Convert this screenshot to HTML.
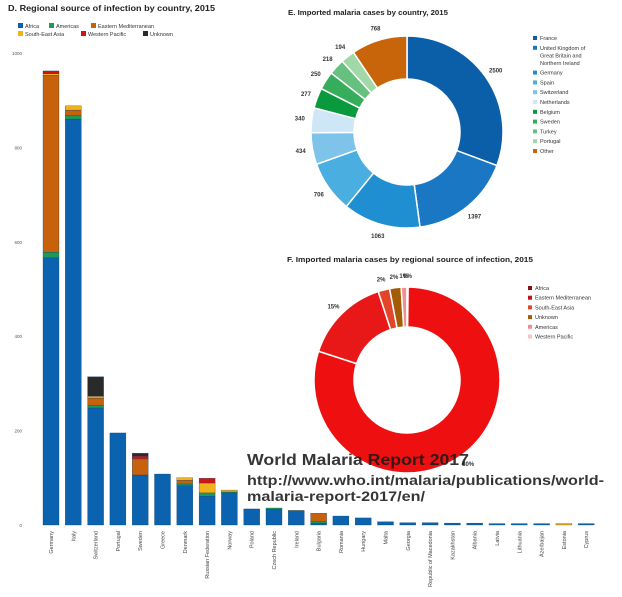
<!DOCTYPE html>
<html><head><meta charset="utf-8"><style>
html,body{margin:0;padding:0;background:#fff;width:622px;height:597px;overflow:hidden;font-family:"Liberation Sans",sans-serif}
svg{display:block}
</style></head><body>
<svg id="c" width="622" height="597" xmlns="http://www.w3.org/2000/svg">
<rect width="622" height="597" fill="#fff"/>
<text x="8" y="11" font-size="8" font-weight="bold" fill="#222" textLength="207" lengthAdjust="spacingAndGlyphs">D. Regional source of infection by country, 2015</text>
<text x="288" y="15" font-size="7.5" font-weight="bold" fill="#222" textLength="160" lengthAdjust="spacingAndGlyphs">E. Imported malaria cases by country, 2015</text>
<text x="287" y="262" font-size="7.5" font-weight="bold" fill="#222" textLength="246" lengthAdjust="spacingAndGlyphs">F. Imported malaria cases by regional source of infection, 2015</text>
<g id="bars"></g>
<g id="legD"></g>
<g id="donutE"></g>
<g id="donutF"></g>
<g opacity="0.88" fill="#1a1a1a" font-weight="bold">
<text x="247" y="465" font-size="16" textLength="222" lengthAdjust="spacingAndGlyphs">World Malaria Report 2017</text>
<text x="247" y="485" font-size="14" textLength="357" lengthAdjust="spacingAndGlyphs">http://www.who.int/malaria/publications/world-</text>
<text x="247" y="501" font-size="14" textLength="178" lengthAdjust="spacingAndGlyphs">malaria-report-2017/en/</text>
</g>
</svg>
<script>
const NS='http://www.w3.org/2000/svg';
function mk(tag,attrs,parent){const e=document.createElementNS(NS,tag);for(const k in attrs)e.setAttribute(k,attrs[k]);parent.appendChild(e);return e;}

// ---- Chart D data ----
const countries=['Germany','Italy','Switzerland','Portugal','Sweden','Greece','Denmark','Russian Federation','Norway','Poland','Czech Republic','Ireland','Bulgaria','Romania','Hungary','Malta','Georgia','Republic of Macedonia','Kazakhstan','Albania','Latvia','Lithuania','Azerbaijan','Estonia','Cyprus'];
const regions=['Africa','Americas','Eastern Mediterranean','South-East Asia','Western Pacific','Unknown'];
const regionColors=['#0b63b0','#1e9a55','#c8610c','#f2b21a','#d41414','#2a2a2a'];
const africa=[566,860,248,195,106,108,83,61,68,34,33,30,4,19,15,7,5,5,4,4,3,3,3,0,3];
const americas=[12,8,6,0,0,0,4,7,2,0,3,0,4,0,0,0,0,0,0,0,0,0,0,0,0];
const easternMed=[375,11,15,0,34,0,8,0,0,0,0,0,17,0,0,0,0,0,0,0,0,0,0,0,0];
const southEastAsia=[3,9,4,0,0,0,5,21,4,0,0,1,0,0,0,0,0,0,0,0,0,0,0,3,0];
const westernPacific=[6,0,0,0,6,0,0,10,0,0,0,0,0,0,0,0,0,0,0,0,0,0,0,0,0];
const unknown=[0,0,41,0,6,0,0,0,0,0,0,0,0,0,0,0,0,0,0,0,0,0,0,0,0];
const yTicks=[0,200,400,600,800,1000];
const yTickLabels=['0','200','400','600','800','1000'];

const x0=43,step=22.3,bw=16,yZero=525,yTop=53,yMax=1000;
const yScale=v=>yZero-v*(yZero-yTop)/yMax;
const xScale=i=>x0+i*step;
const gB=document.getElementById('bars');
yTicks.forEach((t,i)=>{
  const tx=mk('text',{x:22,y:yScale(t)+2,'font-size':4.5,fill:'#555','text-anchor':'end'},gB);
  tx.textContent=yTickLabels[i];
  
  
});
const series=[africa,americas,easternMed,southEastAsia,westernPacific,unknown];
countries.forEach((c,i)=>{
  let acc=0;
  series.forEach((s,k)=>{
    const v=s[i]; if(v<=0) return;
    const r=mk('rect',{x:xScale(i),y:yScale(acc+v),width:bw,height:yScale(acc)-yScale(acc+v),fill:regionColors[k],stroke:'#0a3a66','stroke-width':0.3},gB);
    
    
    acc+=v;
  });
  const cx=xScale(i)+bw/2+2, cy=531;
  const t=mk('text',{x:cx,y:cy,'font-size':5.5,fill:'#444','text-anchor':'end',transform:`rotate(-90 ${cx} ${cy})`},gB);
  t.textContent=c;
  
  
});
// legend D
const gL=document.getElementById('legD');
const legPos=[[18,23],[49,23],[91,23],[18,31],[81,31],[143,31]];
const legNames=['Africa','Americas','Eastern Mediterranean','South-East Asia','Western Pacific','Unknown'];
legNames.forEach((n,k)=>{
  const [lx,ly]=legPos[k];
  const r=mk('rect',{x:lx,y:ly,width:5,height:5,fill:regionColors[k]},gL);
  
  
  const t=mk('text',{x:lx+7,y:ly+5,'font-size':5.5,fill:'#333'},gL);
  t.textContent=n;
  
  
});

// ---- Donut helper ----
function arc(cx,cy,r0,r1,a0,a1){
  const p=(r,a)=>[cx+r*Math.sin(a),cy-r*Math.cos(a)];
  const lg=(a1-a0)>Math.PI?1:0;
  const [x1,y1]=p(r1,a0),[x2,y2]=p(r1,a1),[x3,y3]=p(r0,a1),[x4,y4]=p(r0,a0);
  return `M${x1},${y1}A${r1},${r1} 0 ${lg} 1 ${x2},${y2}L${x3},${y3}A${r0},${r0} 0 ${lg} 0 ${x4},${y4}Z`;
}
function donut(g,vals,names,cols,labels,cx,cy,r0,r1,labelR,minAng){
  const tot=vals.reduce((a,b)=>a+b,0);
  let a=0;
  vals.forEach((v,i)=>{
    const da=Math.max(v/tot*2*Math.PI,minAng||0);
    const p=mk('path',{d:arc(cx,cy,r0,r1,a,a+da),fill:cols[i],stroke:'#fff','stroke-width':1.5},g);
    
    
    const m=a+da/2;
    const t=mk('text',{x:cx+labelR*Math.sin(m),y:cy-labelR*Math.cos(m)+2,'font-size':6,'font-weight':'bold',fill:'#333','text-anchor':'middle'},g);
    t.textContent=labels[i];
    
    
    a+=da;
  });
}
// ---- Chart E data ----
const eNames=['France','United Kingdom of Great Britain and Northern Ireland','Germany','Spain','Switzerland','Netherlands','Belgium','Sweden','Turkey','Portugal','Other'];
const eValues=[2500,1397,1063,706,434,340,277,250,218,194,768];
const eColors=['#0a5fa8','#1a77c4','#1f8fd2','#4aaee0','#7dc3ea','#cfe6f6','#0a9a3e','#35ad5a','#66c07e','#a2d7a7','#c8640a'];
donut(document.getElementById('donutE'),eValues,eNames,eColors,eValues.map(String),407,132,53,96,108,0);
const gE=document.getElementById('donutE');
const eLeg=[['France'],['United Kingdom of','Great Britain and','Northern Ireland'],['Germany'],['Spain'],['Switzerland'],['Netherlands'],['Belgium'],['Sweden'],['Turkey'],['Portugal'],['Other']];
let ey=40;
eLeg.forEach((ls,k)=>{
  const r=mk('rect',{x:533,y:ey-4,width:4,height:4,fill:eColors[k]},gE);
  
  
  ls.forEach((l,j)=>{
    const t=mk('text',{x:540,y:ey+j*7.5,'font-size':5.5,fill:'#333'},gE);
    t.textContent=l;
    
    
  });
  ey+=ls.length*7.5+2.3;
});
// ---- Chart F data ----
const fNames=['Africa','Eastern Mediterranean','South-East Asia','Unknown','Americas','Western Pacific'];
const fValues=[80,15,2,2,1,0];
const fLabels=['80%','15%','2%','2%','1%','0%'];
const fColors=['#ee1010','#e81818','#e2452a','#a35c06','#ef8f8f','#f6c4c4'];
donut(document.getElementById('donutF'),fValues,fNames,fColors,fLabels,407,380,53,93,104,0.012);
const gF=document.getElementById('donutF');
fNames.forEach((n,k)=>{
  const y=290+k*9.7;
  const r=mk('rect',{x:528,y:y-4,width:4,height:4,fill:['#8a0f0f','#c0101a','#e2452a','#a35c06','#ef8f8f','#f6c4c4'][k]},gF);
  
  
  const t=mk('text',{x:535,y:y,'font-size':5.5,fill:'#333'},gF);
  t.textContent=n;
  
  
});
</script>
</body></html>
